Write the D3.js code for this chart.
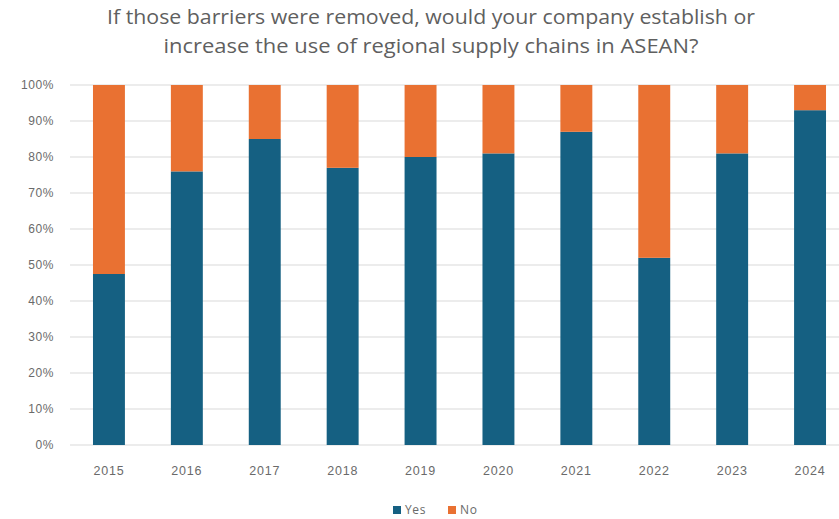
<!DOCTYPE html>
<html>
<head>
<meta charset="utf-8">
<script src="https://cdn.jsdelivr.net/npm/d3@7/dist/d3.min.js"></script>
<style>
  html, body { margin: 0; padding: 0; background: #fff; }
  svg { display: block; font-family: "Open Sans", "Noto Sans", sans-serif; }
</style>
</head>
<body>
<svg id="chart" width="839" height="519"></svg>
<script>
const years = ["2015","2016","2017","2018","2019","2020","2021","2022","2023","2024"];
const yesValues = [47.5, 76, 85, 77, 80, 81, 87, 52, 81, 93];
const noValues = yesValues.map(v => 100 - v);
const seriesNames = ["Yes", "No"];
const seriesColors = ["#156082", "#E97132"];
const yTicks = [0, 10, 20, 30, 40, 50, 60, 70, 80, 90, 100];
const titleLines = [
  "If those barriers were removed, would your company establish or",
  "increase the use of regional supply chains in ASEAN?"
];

const svg = d3.select("#chart");
const W = 839, H = 519;
const plot = { left: 70, right: 849, top: 85, bottom: 445 };

const x = d3.scaleBand().domain(years).range([plot.left, plot.right]).paddingInner(0.59).paddingOuter(0.295);
const y = d3.scaleLinear().domain([0, 100]).range([plot.bottom, plot.top]);

// title, two centred lines
const titleWidths = [648, 535];
svg.append("g").selectAll("text").data(titleLines).join("text")
  .attr("x", 431).attr("y", (d, i) => 24 + i * 29)
  .attr("text-anchor", "middle")
  .attr("fill", "#5f5f5f").attr("font-size", 20)
  .attr("textLength", (d, i) => titleWidths[i])
  .attr("lengthAdjust", "spacingAndGlyphs")
  .text(d => d);

// y axis labels
const yAxis = d3.axisLeft(y).tickValues(yTicks).tickFormat(d => d + "%").tickSize(0).tickPadding(0);
const yg = svg.append("g").attr("transform", `translate(54,0)`).call(yAxis);
yg.select(".domain").remove();
yg.selectAll("text").attr("fill", "#6a6a6a").attr("font-size", 12).attr("letter-spacing", 0.6);

// gridlines
svg.append("g").selectAll("line").data(yTicks).join("line")
  .attr("x1", plot.left).attr("x2", W)
  .attr("y1", d => y(d)).attr("y2", d => y(d))
  .attr("stroke", "#d9d9d9").attr("stroke-width", 1);

// stacked bars
const rows = years.map((yr, i) => ({ year: yr, Yes: yesValues[i], No: noValues[i] }));
const stack = d3.stack().keys(seriesNames)(rows);
svg.append("g").selectAll("g").data(stack).join("g")
  .attr("fill", (d, i) => seriesColors[i])
  .selectAll("rect").data(d => d).join("rect")
  .attr("x", d => x(d.data.year))
  .attr("width", x.bandwidth())
  .attr("y", d => y(d[1]))
  .attr("height", d => y(d[0]) - y(d[1]));

// x axis labels
const xAxis = d3.axisBottom(x).tickSize(0).tickPadding(0);
const xg = svg.append("g").attr("transform", `translate(0,${plot.bottom + 30})`).call(xAxis);
xg.select(".domain").remove();
xg.selectAll("text").attr("fill", "#6a6a6a").attr("font-size", 12.5).attr("letter-spacing", 0.8).attr("dy", 0);

// legend
const legend = svg.append("g").attr("transform", "translate(393,510)");
const legendOffsets = [0, 55];
seriesNames.forEach((name, i) => {
  const g = legend.append("g").attr("transform", `translate(${legendOffsets[i]},0)`);
  g.append("rect").attr("x", 0).attr("y", -4).attr("width", 8).attr("height", 8).attr("fill", seriesColors[i]);
  g.append("text").attr("x", 12).attr("y", 0).attr("dy", "0.35em")
    .attr("fill", "#6a6a6a").attr("font-size", 12).attr("letter-spacing", 0.6).text(name);
});
</script>
</body>
</html>
